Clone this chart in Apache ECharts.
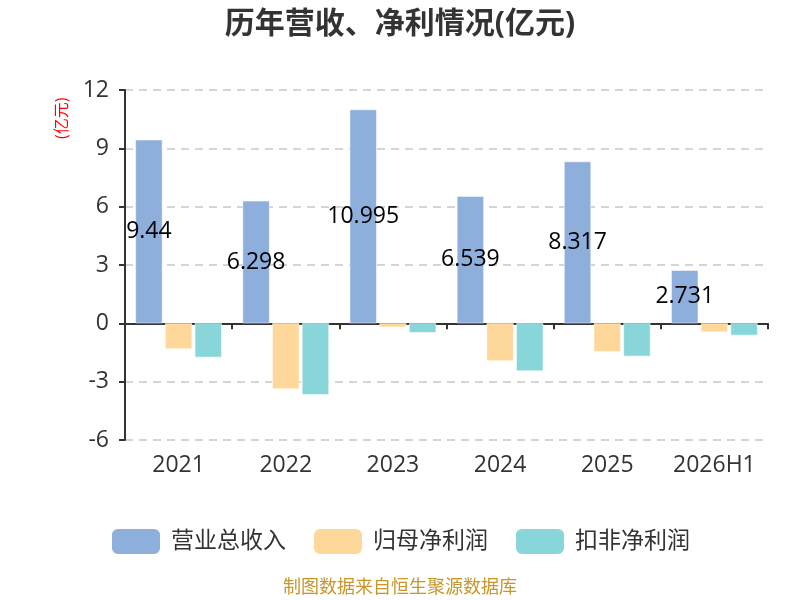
<!DOCTYPE html>
<html>
<head>
<meta charset="utf-8">
<script src="https://cdn.jsdelivr.net/npm/echarts@6/dist/echarts.min.js"></script>
<style>
html,body{margin:0;padding:0;background:#fff;}
#main{width:800px;height:600px;}
</style>
</head>
<body>
<div id="main"></div>
<script>
var years = ['2021', '2022', '2023', '2024', '2025', '2026H1'];
var revenue = [9.44, 6.298, 10.995, 6.539, 8.317, 2.731];
var netProfit = [-1.32, -3.38, -0.2, -1.94, -1.46, -0.45];
var deductedProfit = [-1.75, -3.67, -0.48, -2.45, -1.7, -0.62];
var seriesNames = ['营业总收入', '归母净利润', '扣非净利润'];
var colors = ['#8eaedb', '#fdd89a', '#88d6da'];

var myChart = echarts.init(document.getElementById('main'));
var font = '"Open Sans", "Noto Sans CJK SC", sans-serif';
var option = {
	color : colors,
	textStyle : { fontFamily : font },
	title : {
		text : '历年营收、净利情况(亿元)',
		left : 'center',
		top : 4,
		textStyle : { fontSize : 30, fontWeight : 'bold', color : '#333', fontFamily : font }
	},
	legend : {
		top : 522,
		left : 'center',
		itemWidth : 50,
		itemHeight : 27,
		itemGap : 26,
		icon : 'roundRect',
		textStyle : { fontSize : 23, color : '#333', fontFamily : font, padding : [0, 0, 0, 5] },
		data : seriesNames
	},
	graphic : [{
		type : 'text',
		left : 'center',
		top : 579,
		style : { text : '制图数据来自恒生聚源数据库', fill : '#c8962a', fontSize : 18, fontFamily : font }
	}, {
		type : 'text',
		x : 54,
		y : 139,
		rotation : Math.PI / 2,
		style : { text : '(亿元)', fill : 'red', fontSize : 16, fontFamily : font }
	}],
	grid : { left : 125, right : 32, top : 90, bottom : 160 },
	xAxis : {
		type : 'category',
		data : years,
		axisLine : { lineStyle : { color : '#333', width : 2 } },
		axisTick : { show : true, length : 6, lineStyle : { color : '#333', width : 2 } },
		axisLabel : { fontSize : 23, color : '#333', margin : 14, interval : 0 }
	},
	yAxis : {
		type : 'value',
		min : -6,
		max : 12,
		interval : 3,
		axisLine : { show : true, lineStyle : { color : '#333', width : 2 } },
		axisTick : { show : true, length : 6, lineStyle : { color : '#333', width : 2 } },
		axisLabel : { fontSize : 23, color : '#333', margin : 16 },
		splitLine : { lineStyle : { type : [8, 6], color : '#c8c8c8', width : 1.5 } }
	},
	series : [{
		name : seriesNames[0],
		type : 'bar',
		data : revenue,
		barWidth : 27,
		barGap : '10%',
		itemStyle : { borderColor : '#fff', borderWidth : 0.5 },
		label : { show : true, position : 'inside', color : '#000', fontSize : 23 }
	}, {
		name : seriesNames[1],
		type : 'bar',
		data : netProfit,
		barWidth : 27,
		barGap : '10%',
		itemStyle : { borderColor : '#fff', borderWidth : 0.5 }
	}, {
		name : seriesNames[2],
		type : 'bar',
		data : deductedProfit,
		barWidth : 27,
		barGap : '10%',
		itemStyle : { borderColor : '#fff', borderWidth : 0.5 }
	}]
};
myChart.setOption(option);
</script>
</body>
</html>
